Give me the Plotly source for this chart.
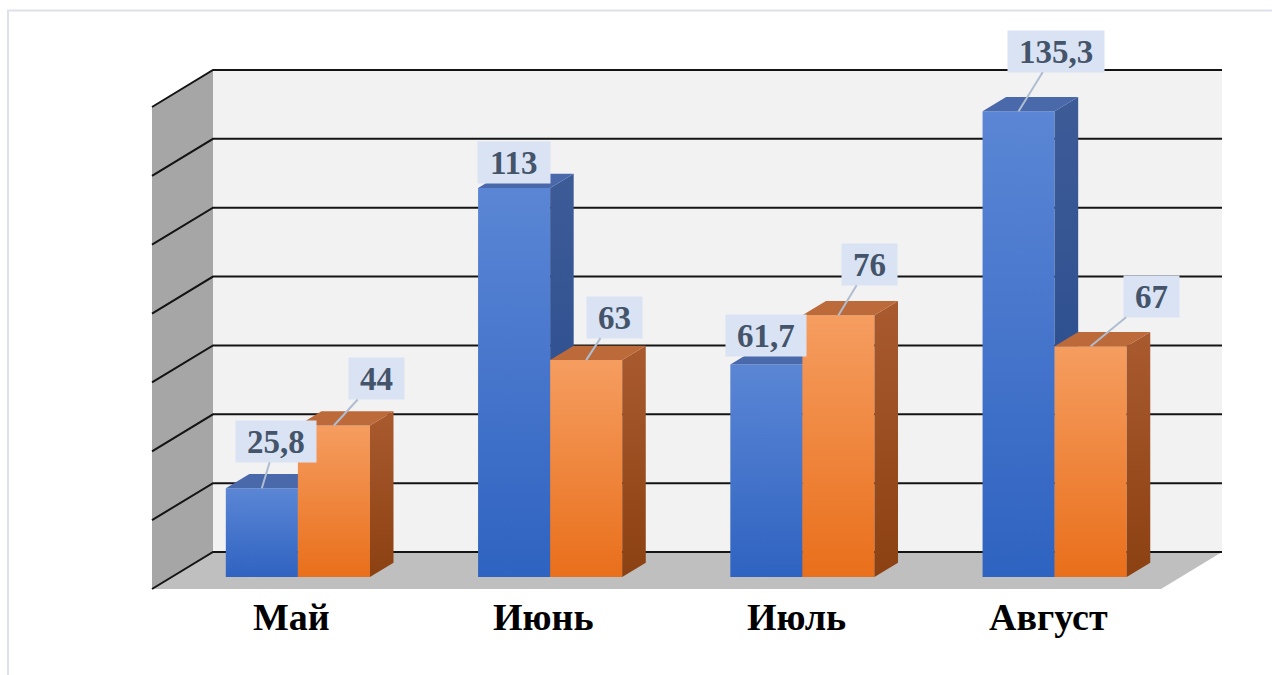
import plotly.graph_objects as go

# ---------------- data ----------------
categories = ["Май", "Июнь", "Июль", "Август"]
series_blue = [25.8, 113, 61.7, 135.3]
series_orange = [44, 63, 76, 67]
labels_blue = ["25,8", "113", "61,7", "135,3"]
labels_orange = ["44", "63", "76", "67"]
value_ticks = [0, 20, 40, 60, 80, 100, 120, 140]

# ---------------- layout geometry (pixels of the back wall) ----------------
W, H = 1272, 675
PX_L, PX_R = 213, 1222
PY_TOP, PY_BOT = 70, 552
YMAX = 140
UX = (PX_R - PX_L) / len(categories)   # px per category unit
UY = (PY_BOT - PY_TOP) / YMAX          # px per value unit
X_RANGE = [-0.5 - PX_L / UX, -0.5 + (W - PX_L) / UX]
Y_RANGE = [-(H - PY_BOT) / UY, PY_BOT / UY]
DX = -61 / UX      # full floor depth, in axis units
DY = -37 / UY
ZF, ZB = 0.676, 0.29   # bar front / back depth fractions
BW = 1 / 3.5           # bar width (gap width 150%)

# label offsets in pixels (from bar front-top centre to label centre) and leader visibility
off_blue = [(14, -47), (0, -25), (0, -29), (37, -60)]
off_orange = [(43, -47), (28, -43), (31, -51), (61, -50)]
leader_blue = [True, False, False, True]
leader_orange = [True, True, True, True]

LABEL_FS = 33
styles = {
    "blue": dict(front=("#2f63c1", "#5b86d5"), side=("#23478a", "#3d5b97"), top="#4a69aa"),
    "orange": dict(front=("#e96f1b", "#f59d60"), side=("#8c4112", "#a95b2f"), top="#bd6a3b"),
}


def P(x, v, z):
    return x + z * DX, v + z * DY


def poly(pts):
    xs = [p[0] for p in pts] + [pts[0][0]]
    ys = [p[1] for p in pts] + [pts[0][1]]
    return xs, ys


fig = go.Figure()

x_lo, x_hi = -0.5, len(categories) - 0.5

# back wall
xs, ys = poly([(x_lo, 0), (x_hi, 0), (x_hi, YMAX), (x_lo, YMAX)])
fig.add_trace(go.Scatter(x=xs, y=ys, fill="toself", fillcolor="#f2f2f2",
                         mode="lines", line=dict(width=0), hoverinfo="skip"))
# left wall
xs, ys = poly([(x_lo, 0), (x_lo, YMAX), P(x_lo, YMAX, 1), P(x_lo, 0, 1)])
fig.add_trace(go.Scatter(x=xs, y=ys, fill="toself", fillcolor="#a6a6a6",
                         mode="lines", line=dict(width=0), hoverinfo="skip"))
# floor
xs, ys = poly([(x_lo, 0), (x_hi, 0), P(x_hi, 0, 1), P(x_lo, 0, 1)])
fig.add_trace(go.Scatter(x=xs, y=ys, fill="toself", fillcolor="#bfbfbf",
                         mode="lines", line=dict(width=0), hoverinfo="skip"))

# gridlines
gx, gy = [], []
for t in value_ticks:
    a = P(x_lo, t, 1)
    gx += [a[0], x_lo, x_hi, None]
    gy += [a[1], t, t, None]
fig.add_trace(go.Scatter(x=gx, y=gy, mode="lines", line=dict(color="#141414", width=2),
                         hoverinfo="skip"))

# bars
annotations = []
for i in range(len(categories)):
    for name, vals, labs, offs, leads, shift in (
            ("blue", series_blue, labels_blue, off_blue, leader_blue, -BW),
            ("orange", series_orange, labels_orange, off_orange, leader_orange, 0)):
        v = vals[i]
        st = styles[name]
        x0 = i + shift
        x1 = x0 + BW
        # front face
        xs, ys = poly([P(x0, 0, ZF), P(x1, 0, ZF), P(x1, v, ZF), P(x0, v, ZF)])
        fig.add_trace(go.Scatter(
            x=xs, y=ys, fill="toself", mode="lines", line=dict(width=0), hoverinfo="skip",
            fillgradient=dict(type="vertical",
                              colorscale=[[0, st["front"][0]], [1, st["front"][1]]],
                              start=ZF * DY, stop=v + ZF * DY)))
        # side face
        xs, ys = poly([P(x1, 0, ZF), P(x1, 0, ZB), P(x1, v, ZB), P(x1, v, ZF)])
        fig.add_trace(go.Scatter(
            x=xs, y=ys, fill="toself", mode="lines", line=dict(width=0), hoverinfo="skip",
            fillgradient=dict(type="vertical",
                              colorscale=[[0, st["side"][0]], [1, st["side"][1]]],
                              start=ZF * DY, stop=v + ZB * DY)))
        # top face
        xs, ys = poly([P(x0, v, ZF), P(x1, v, ZF), P(x1, v, ZB), P(x0, v, ZB)])
        fig.add_trace(go.Scatter(x=xs, y=ys, fill="toself", fillcolor=st["top"],
                                 mode="lines", line=dict(width=0), hoverinfo="skip"))
        # data label with leader line
        ax_, ay_ = P(x0 + BW / 2, v, ZF)
        lab = labs[i]
        tw = LABEL_FS * sum(0.25 if ch == "," else 0.5 for ch in lab)
        annotations.append(dict(
            x=ax_, y=ay_, xref="x", yref="y", text=lab,
            showarrow=True, arrowhead=0, arrowwidth=2,
            arrowcolor="#aebdd1" if leads[i] else "rgba(0,0,0,0)",
            ax=offs[i][0], ay=offs[i][1], standoff=0, startstandoff=0,
            bgcolor="#dae3f3", borderpad=4, width=tw + 14, height=33,
            font=dict(family="Liberation Serif", size=LABEL_FS, color="#44546a", weight="bold")))

# category labels
for i, c in enumerate(categories):
    annotations.append(dict(
        x=i + 0.78 * DX, y=-19, xref="x", yref="y", text=c, showarrow=False,
        xanchor="center", yanchor="middle",
        font=dict(family="Liberation Serif", size=38, color="#000000", weight="bold")))

# outer frame (partially visible)
shapes = [
    dict(type="line", xref="paper", yref="paper", x0=7 / W, x1=1.0, y0=1 - 10.5 / H, y1=1 - 10.5 / H,
         line=dict(color="#dde2ea", width=2)),
    dict(type="line", xref="paper", yref="paper", x0=8 / W, x1=8 / W, y0=0, y1=1 - 10 / H,
         line=dict(color="#dde2ea", width=2)),
]

fig.update_layout(
    width=W, height=H, autosize=False,
    margin=dict(l=0, r=0, t=0, b=0),
    paper_bgcolor="white", plot_bgcolor="white",
    showlegend=False,
    xaxis=dict(range=X_RANGE, visible=False, fixedrange=True),
    yaxis=dict(range=Y_RANGE, visible=False, fixedrange=True),
    annotations=annotations, shapes=shapes,
)

fig.write_html("out.html")
